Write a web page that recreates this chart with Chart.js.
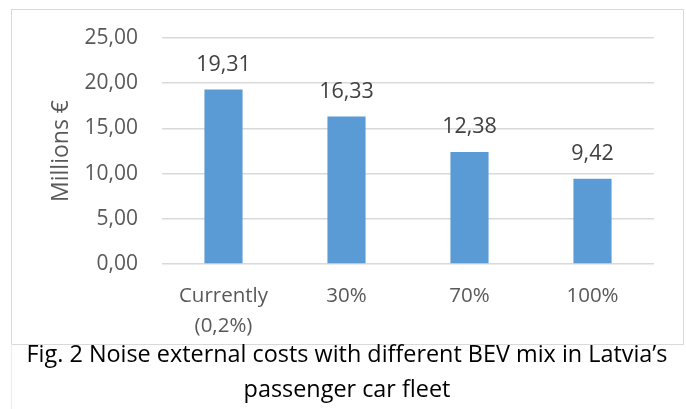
<!DOCTYPE html>
<html>
<head>
<meta charset="utf-8">
<script src="https://cdn.jsdelivr.net/npm/chart.js@4/dist/chart.umd.min.js"></script>
<style>
  html, body { margin: 0; padding: 0; background: #fff; }
  #page { position: relative; width: 686px; height: 409px; overflow: hidden; }
  #frame { position: absolute; left: 11px; top: 9px; width: 671px; height: 334px; border: 1px solid #d9d9d9; }
  #edge { position: absolute; left: 11px; top: 344px; width: 0; height: 65px; border-left: 1px solid #ececec; }
  #chart { position: absolute; left: 0; top: 0; }
  #caption {
    position: absolute; left: 0; top: 336px; width: 694px; text-align: center;
    font-family: "Open Sans", sans-serif; font-size: 23.4px; line-height: 35px; color: #000;
  }
</style>
</head>
<body>
<div id="page">
  <div id="frame"></div>
  <div id="edge"></div>
  <canvas id="chart" width="686" height="409"></canvas>
  <div id="caption">Fig. 2 Noise external costs with different BEV mix in Latvia’s<br>passenger car fleet</div>
</div>
<script>
const categories = [["Currently", "(0,2%)"], "30%", "70%", "100%"];
const costs = [19.31, 16.33, 12.38, 9.42];
const yTicks = [0, 5, 10, 15, 20, 25];

const FONT = "'Open Sans', sans-serif";
const fmt = v => v.toFixed(2).replace('.', ',');

// value labels above each bar, positioned from the bar elements
const barValueLabels = {
  id: 'barValueLabels',
  afterDatasetsDraw(chart) {
    const { ctx } = chart;
    const meta = chart.getDatasetMeta(0);
    ctx.save();
    ctx.font = "21.5px " + FONT;
    ctx.fillStyle = '#404040';
    ctx.textAlign = 'center';
    ctx.textBaseline = 'middle';
    meta.data.forEach((bar, i) => {
      ctx.fillText(fmt(chart.data.datasets[0].data[i]), bar.x, bar.y - 25);
    });
    ctx.restore();
  }
};

new Chart(document.getElementById('chart'), {
  type: 'bar',
  data: {
    labels: categories,
    datasets: [{
      data: costs,
      backgroundColor: '#5b9bd5',
      borderWidth: 0,
      barPercentage: 0.62,
      categoryPercentage: 0.5
    }]
  },
  options: {
    responsive: false,
    animation: false,
    devicePixelRatio: 1,
    layout: { padding: { top: 38, right: 32, bottom: 0, left: 0 } },
    plugins: { legend: { display: false }, tooltip: { enabled: false } },
    scales: {
      x: {
        grid: { display: false, drawTicks: false },
        border: { display: false },
        ticks: { color: '#595959', font: { family: FONT, size: 20.5, lineHeight: 1.42 }, padding: 18, maxRotation: 0 },
        afterFit(s) { s.height = 145; }
      },
      y: {
        min: 0, max: 25,
        afterBuildTicks(s) { s.ticks = yTicks.map(v => ({ value: v })); },
        grid: { color: '#d9d9d9', lineWidth: 1.5, drawTicks: false },
        border: { display: false },
        ticks: { color: '#595959', font: { family: FONT, size: 21 }, padding: 24, callback: v => fmt(v) },
        title: { display: true, text: 'Millions €', color: '#595959', font: { family: FONT, size: 23 }, padding: { top: 48, bottom: 0 } },
        afterFit(s) { s.width = 162; }
      }
    }
  },
  plugins: [barValueLabels]
});
</script>
</body>
</html>
